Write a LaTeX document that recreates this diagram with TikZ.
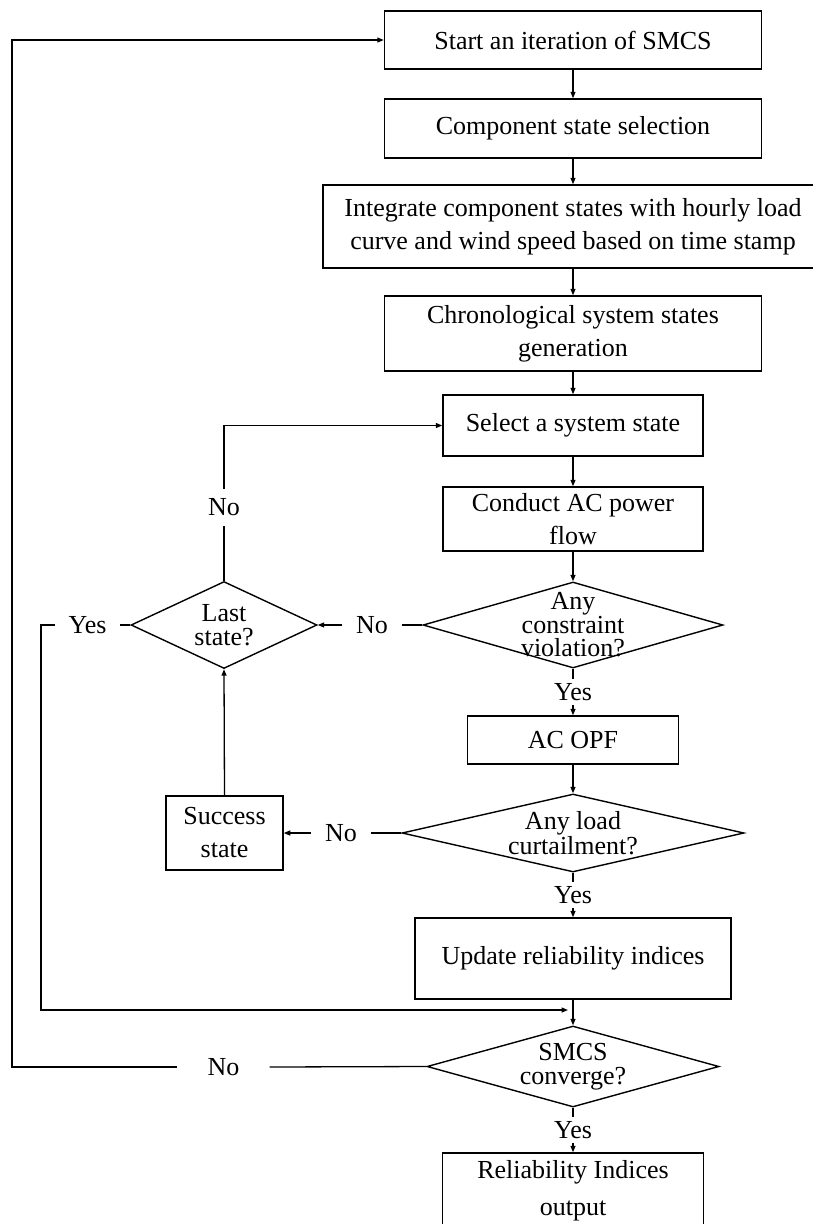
\documentclass[tikz,border=0pt]{standalone}
\usepackage{fontspec}
\setmainfont{Liberation Serif}
\usetikzlibrary{shapes.geometric,arrows.meta}
\begin{document}
\begin{tikzpicture}[x=1pt,y=-1pt,
  every node/.style={font=\fontsize{26}{33}\selectfont},
  box/.style={draw, line width=1.5pt, inner sep=0pt, align=center},
  dia/.style={draw, diamond, line width=1.4pt, inner sep=0pt},
  dtext/.style={align=center, inner sep=0pt, font=\fontsize{26}{23.5}\selectfont},
  lab/.style={inner xsep=14pt, inner ysep=10pt},
  ylab/.style={inner xsep=2pt, inner ysep=4pt},
  flow/.style={line width=1.3pt, -{Triangle[length=6.5pt,width=5pt]}},
  link/.style={line width=1.3pt}
]
\useasboundingbox (0,0) rectangle (812,1224);

% main column
\node[box, minimum width=377pt, minimum height=58pt] (start) at (573,40) {Start an iteration of SMCS};
\node[box, minimum width=377pt, minimum height=59pt] (comp) at (573,128.5) {Component state selection};
\node[box, minimum width=500pt, minimum height=83pt] (integ) at (573,226.5) {Integrate component states with hourly load\\curve and wind speed based on time stamp};
\node[box, minimum width=377pt, minimum height=75pt] (chrono) at (573,333.5) {Chronological system states\\generation};
\node[box, minimum width=260pt, minimum height=61pt] (select) at (573,425.5) {Select a system state};
\node[box, minimum width=260pt, minimum height=64pt] (conduct) at (573,519) {Conduct AC power\\flow};
\node[dia, minimum width=300pt, minimum height=86pt,
      label={[dtext]center:{Any\\constraint\\violation?}}] (d1) at (573,625) {};
\node[box, minimum width=211pt, minimum height=48pt] (acopf) at (573,740) {AC OPF};
\node[dia, minimum width=342pt, minimum height=78pt,
      label={[dtext]center:{Any load\\curtailment?}}] (d2) at (573,833) {};
\node[box, minimum width=316pt, minimum height=81pt] (update) at (573,958.5) {Update reliability indices};
\node[dia, minimum width=292pt, minimum height=81pt,
      label={[dtext]center:{SMCS\\converge?}}] (d3) at (573,1066.5) {};
\node[box, minimum width=261pt, minimum height=76pt] (out) at (573,1191) {Reliability Indices\\[4pt]output};

% side column
\node[dia, minimum width=186pt, minimum height=87pt,
      label={[dtext]center:{Last\\state?}}] (last) at (224,625) {};
\node[box, minimum width=117pt, minimum height=74pt] (success) at (224.5,833) {Success\\state};

% branch labels
\node[ylab] (y1) at (573,692) {Yes};
\node[ylab] (y2) at (573,895) {Yes};
\node[ylab] (y3) at (573,1130) {Yes};
\node[lab] (n1) at (372,625) {No};
\node[lab] (n2) at (224,507.5) {No};
\node[lab] (n3) at (341,833) {No};
\node[lab, inner xsep=13pt] (y4) at (87.5,625) {Yes};
\node[lab, inner xsep=30pt] (n4) at (223.5,1067) {No};

% loop corners
\coordinate (join) at (573,1010);
\coordinate (loopA) at (41,1010);
\coordinate (loopB) at (12,40);

% main flow
\draw[flow] (start) -- (comp);
\draw[flow] (comp) -- (integ);
\draw[flow] (integ) -- (chrono);
\draw[flow] (chrono) -- (select);
\draw[flow] (select) -- (conduct);
\draw[flow] (conduct) -- (d1.north);
\draw[link] (d1.south) -- (y1.north);
\draw[flow] (y1.south) -- (acopf.north);
\draw[flow] (acopf) -- (d2.north);
\draw[link] (d2.south) -- (y2.north);
\draw[flow] (y2.south) -- (update.north);
\draw[flow] (update) -- (d3.north);
\draw[link] (d3.south) -- (y3.north);
\draw[flow] (y3.south) -- (out.north);

% no constraint violation
\draw[link] (d1.west) -- (n1.east);
\draw[flow] (n1.west) -- (last.east);
% not the last state
\draw[link] (last.north) -- (n2.south);
\draw[flow] (n2.north) |- (select.west);
% last state reached
\draw[link] (last.west) -- (y4.east);
\draw[flow, shorten >=5pt] (y4.west) -| (loopA) -- (join);
% no load curtailment
\draw[link] (d2.west) -- (n3.east);
\draw[flow] (n3.west) -- (success.east);
\draw[flow] (success.north) -- (last.south);
% not converged
\draw[link] (d3.west) -- (n4.east);
\draw[flow] (n4.west) -| (loopB) -- (start.west);
\end{tikzpicture}
\end{document}
